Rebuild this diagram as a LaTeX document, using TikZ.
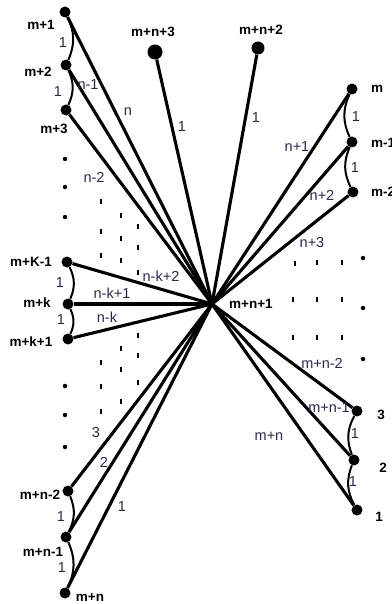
\documentclass[tikz,border=0pt]{standalone}
\usepackage{fontspec}
\setmainfont{Liberation Sans}
\definecolor{labcol}{RGB}{40,40,75}
\begin{document}
\begin{tikzpicture}[x=1pt,y=-1pt,
 dot/.style={circle,fill=black,inner sep=0pt,minimum size=11pt},
 bigdot/.style={dot,minimum size=15pt},
 meddot/.style={dot,minimum size=13pt},
 edge/.style={line width=3.1pt},
 arcline/.style={line width=2pt},
 nl/.style={font=\bfseries\fontsize{13.5}{13.5}\selectfont,inner sep=0pt},
 el/.style={font=\fontsize{14.5}{14.5}\selectfont,text=labcol,inner sep=0pt},
 tickline/.style={line width=1.2pt},
 sdot/.style={circle,fill=black,inner sep=0pt,minimum size=4.5pt}]
\useasboundingbox (0,0) rectangle (391,604);
% centre
\coordinate (c) at (212,304);
% dots
\node[dot] (a1) at (65,12) {};
\node[dot] (a2) at (66,65) {};
\node[dot] (a3) at (66,110) {};
\node[bigdot] (t3) at (155,52) {};
\node[meddot] (t2) at (258,48) {};
\node[dot] (r1) at (352,89) {};
\node[dot] (r2) at (352,142) {};
\node[dot] (r3) at (353,192) {};
\node[dot] (k1) at (67,262) {};
\node[dot] (k2) at (68,304) {};
\node[dot] (k3) at (68,339) {};
\node[dot] (b1) at (68,491) {};
\node[dot] (b2) at (66,537) {};
\node[dot] (b3) at (65,593) {};
\node[dot] (s3) at (357,411) {};
\node[dot] (s2) at (354,460) {};
\node[dot] (s1) at (357,510) {};
% edges
\foreach \n in {a1,a2,a3,t3,t2,r1,r2,r3,k1,k2,k3,b1,b2,b3,s3,s2,s1}
  \draw[edge] (c) -- (\n);
% arcs
\draw[arcline] (a1) to[bend left=25] (a2);
\draw[arcline] (a2) to[bend left=25] (a3);
\draw[arcline] (k1) to[bend left=25] (k2);
\draw[arcline] (k2) to[bend left=25] (k3);
\draw[arcline] (b1) to[bend left=25] (b2);
\draw[arcline] (b2) to[bend left=25] (b3);
\draw[arcline] (r1) to[bend right=25] (r2);
\draw[arcline] (r2) to[bend right=25] (r3);
\draw[arcline] (s3) to[bend right=25] (s2);
\draw[arcline] (s2) to[bend right=25] (s1);
% node labels
\node[nl] (la1) at (41,25) {m+1};
\node[nl] (la2) at (38,72) {m+2};
\node[nl] (la3) at (54,129) {m+3};
\node[nl] (lt3) at (153,32) {m+n+3};
\node[nl] (lt2) at (261,30) {m+n+2};
\node[nl,anchor=west] (lr1) at (371,89) {m};
\node[nl,anchor=west] (lr2) at (371,143) {m-1};
\node[nl,anchor=west] (lr3) at (371,192) {m-2};
\node[nl,anchor=west] (lc) at (229,304) {m+n+1};
\node[nl] (lk1) at (31,262) {m+K-1};
\node[nl] (lk2) at (37,303) {m+k};
\node[nl] (lk3) at (31,342) {m+k+1};
\node[nl] (lb1) at (40,495) {m+n-2};
\node[nl] (lb2) at (43,552) {m+n-1};
\node[nl] (lb3) at (90,598) {m+n};
\node[nl] (ls3) at (381,415) {3};
\node[nl] (ls2) at (383,468) {2};
\node[nl] (ls1) at (379,517) {1};
% edge labels
\node[el] (e1) at (128,112) {n};
\node[el] (e2) at (88,85) {n-1};
\node[el] (e3) at (94,177) {n-2};
\node[el] (e4) at (182,127) {1};
\node[el] (e5) at (256,118) {1};
\node[el] (e6) at (297,147) {n+1};
\node[el] (e7) at (322,195) {n+2};
\node[el] (e8) at (312,243) {n+3};
\node[el] (e9) at (161,276) {n-k+2};
\node[el] (e10) at (112,293.5) {n-k+1};
\node[el] (e11) at (107,317) {n-k};
\node[el] (e12) at (322,363) {m+n-2};
\node[el] (e13) at (329,408) {m+n-1};
\node[el] (e14) at (269,436) {m+n};
\node[el] (e15) at (96,433) {3};
\node[el] (e16) at (104,462) {2};
\node[el] (e17) at (122,507) {1};
% arc labels
\node[el] (f1) at (63,43) {1};
\node[el] (f2) at (58,92) {1};
\node[el] (f3) at (60,283) {1};
\node[el] (f4) at (61,320) {1};
\node[el] (f5) at (61,517) {1};
\node[el] (f6) at (62,568) {1};
\node[el] (f7) at (356,117) {1};
\node[el] (f8) at (355,168) {1};
\node[el] (f9) at (355,434) {1};
\node[el] (f10) at (353,482) {1};
% ellipsis dots
\foreach \y in {159,187,217,386,415,447}
  \node[sdot] at (65,\y) {};
\foreach \y in {258,308,359}
  \node[sdot] at (363,\y) {};
% ticks
\foreach \y in {201,231,255,362,386,411}
  \draw[tickline] (101,\y-2.5) -- (101,\y+2.5);
\foreach \y in {215,238,260,348,369,401}
  \draw[tickline] (121,\y-2.5) -- (121,\y+2.5);
\foreach \y in {226,247,272,335,355,382}
  \draw[tickline] (138,\y-2.5) -- (138,\y+2.5);
\foreach \x/\y in {295/263,317/262,342/262,293/299,317/299,342/299,293/337,317/337,342/337}
  \draw[tickline] (\x,\y-2.5) -- (\x,\y+2.5);
\end{tikzpicture}
\end{document}
